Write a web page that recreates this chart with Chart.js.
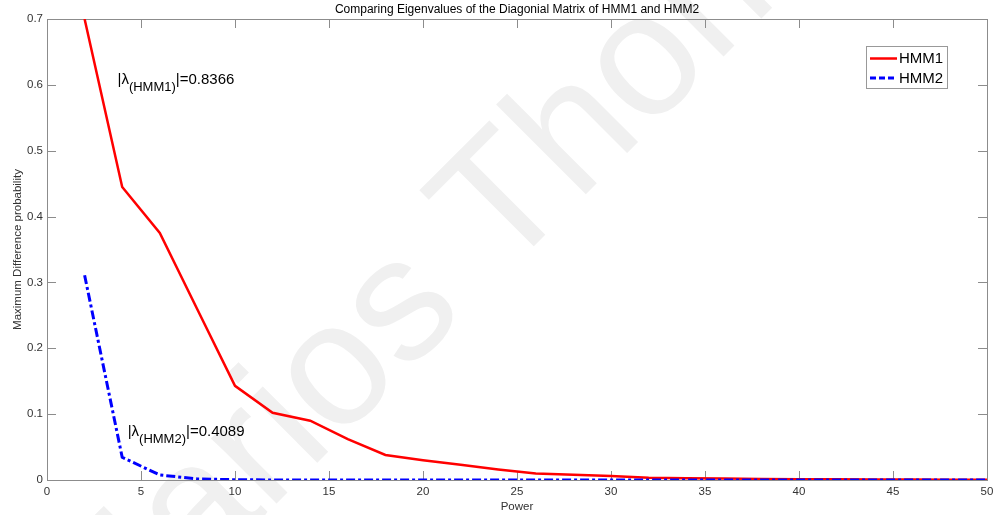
<!DOCTYPE html>
<html>
<head>
<meta charset="utf-8">
<script src="https://cdn.jsdelivr.net/npm/chart.js@4.4.0/dist/chart.umd.min.js"></script>
<style>
  html, body { margin: 0; padding: 0; background: #fff; }
  #contenedor { width: 1002px; height: 515px; }
</style>
</head>
<body>
<div id="contenedor"><canvas id="grafico"></canvas></div>
<script>
// potencias de la matriz (eje x) y diferencia máxima de probabilidad para cada modelo
const potencias = [2, 4, 6, 8, 10, 12, 14, 16, 18, 20, 22, 24, 26, 28, 30, 32, 34, 36, 38, 40, 42, 44, 46, 48, 50];
const difHMM1 = [0.700, 0.445, 0.375, 0.259, 0.143, 0.102, 0.090, 0.062, 0.038, 0.030, 0.023, 0.016, 0.010,
                 0.008, 0.006, 0.0035, 0.0028, 0.0022, 0.0017, 0.0013, 0.0010, 0.0008, 0.0006, 0.0005, 0.0004];
const difHMM2 = [0.311, 0.0345, 0.0076, 0.0017, 0.0004, 0.0001, 0.00002, 0, 0, 0, 0, 0, 0,
                 0, 0, 0, 0, 0, 0, 0, 0, 0, 0, 0, 0];
const ticksX = [0, 5, 10, 15, 20, 25, 30, 35, 40, 45, 50];
const ticksY = [0, 0.1, 0.2, 0.3, 0.4, 0.5, 0.6, 0.7];
const nombres = ['HMM1', 'HMM2'];
const autovalores = ['0.8366', '0.4089'];
// posición (x, y en unidades de datos) de cada etiqueta |λ|
const posEtiquetaX = [3.75, 4.29];
const posEtiquetaY = [0.602, 0.067];

const FUENTE = '"Liberation Sans", Arial, Helvetica, sans-serif';
const GRIS_EJE = '#8c8c8c';
const colores = ['#ff0000', '#0000ff'];
const anchos = [2.5, 3];
const guiones = [[], [9, 3, 3, 3]];

// marca de agua de fondo
const marcaAgua = {
    id: 'marcaAgua',
    beforeDraw(chart) {
        const ctx = chart.ctx;
        ctx.save();
        ctx.fillStyle = '#f0f0f0';
        ctx.font = '175px ' + FUENTE;
        ctx.translate(96, 684);
        ctx.rotate(-Math.PI / 4);
        ctx.fillText('Marios Thomas', 0, 0);
        ctx.restore();
    }
};

// caja de ejes con marcas hacia adentro, estilo MATLAB
const cajaEjes = {
    id: 'cajaEjes',
    beforeDatasetsDraw(chart) {
        const { ctx, chartArea: a, scales } = chart;
        const largo = 9;
        ctx.save();
        ctx.strokeStyle = GRIS_EJE;
        ctx.lineWidth = 1;
        ctx.beginPath();
        ticksX.forEach(v => {
            const px = Math.round(scales.x.getPixelForValue(v)) + 0.5;
            ctx.moveTo(px, a.bottom); ctx.lineTo(px, a.bottom - largo);
            ctx.moveTo(px, a.top); ctx.lineTo(px, a.top + largo);
        });
        ticksY.forEach(v => {
            const py = Math.round(scales.y.getPixelForValue(v)) + 0.5;
            ctx.moveTo(a.left, py); ctx.lineTo(a.left + largo, py);
            ctx.moveTo(a.right, py); ctx.lineTo(a.right - largo, py);
        });
        ctx.stroke();
        ctx.strokeRect(Math.round(a.left) + 0.5, Math.round(a.top) + 0.5,
                       Math.round(a.right - a.left), Math.round(a.bottom - a.top));
        ctx.restore();
    }
};

// etiquetas |λ(HMMn)|=valor y leyenda
const anotaciones = {
    id: 'anotaciones',
    afterDatasetsDraw(chart) {
        const { ctx, chartArea: a, scales } = chart;
        ctx.save();
        ctx.fillStyle = '#000';
        ctx.textBaseline = 'alphabetic';
        nombres.forEach((n, i) => {
            let x = scales.x.getPixelForValue(posEtiquetaX[i]);
            const y = scales.y.getPixelForValue(posEtiquetaY[i]);
            ctx.font = '15px ' + FUENTE;
            ctx.fillText('|λ', x, y);
            x += ctx.measureText('|λ').width;
            ctx.font = '13px ' + FUENTE;
            ctx.fillText('(' + n + ')', x, y + 7.5);
            x += ctx.measureText('(' + n + ')').width;
            ctx.font = '15px ' + FUENTE;
            ctx.fillText('|=' + autovalores[i], x, y);
        });

        // leyenda dentro del área de trazado
        const lx = a.right - 121, ly = a.top + 27, lw = 81, lh = 42;
        ctx.fillStyle = '#fff';
        ctx.fillRect(lx, ly, lw, lh);
        ctx.strokeStyle = '#999';
        ctx.lineWidth = 1;
        ctx.strokeRect(Math.round(lx) + 0.5, Math.round(ly) + 0.5, lw, lh);
        ctx.font = '15px ' + FUENTE;
        ctx.textBaseline = 'middle';
        nombres.forEach((n, i) => {
            const fy = ly + 12.5 + i * 19.5;
            ctx.strokeStyle = colores[i];
            ctx.lineWidth = anchos[i];
            ctx.setLineDash(i === 0 ? [] : [6, 3]);
            ctx.beginPath();
            ctx.moveTo(lx + 4, fy);
            ctx.lineTo(lx + 31, fy);
            ctx.stroke();
            ctx.setLineDash([]);
            ctx.fillStyle = '#000';
            ctx.fillText(n, lx + 33, fy + 0.5);
        });
        ctx.restore();
    }
};

const series = [difHMM1, difHMM2];
const datasets = nombres.map((n, i) => ({
    label: n,
    data: potencias.map((p, k) => ({ x: p, y: series[i][k] })),
    borderColor: colores[i],
    borderWidth: anchos[i],
    borderDash: guiones[i],
    pointRadius: 0,
    fill: false,
    tension: 0,
    order: i === 0 ? 1 : 0
}));

new Chart(document.getElementById('grafico'), {
    type: 'line',
    data: { datasets },
    options: {
        responsive: true,
        maintainAspectRatio: false,
        animation: false,
        layout: { padding: { left: 0, right: 15, top: 0, bottom: 0 } },
        plugins: {
            legend: { display: false },
            tooltip: { enabled: false },
            title: {
                display: true,
                text: 'Comparing Eigenvalues of the Diagonial Matrix of HMM1 and HMM2',
                fullSize: false,
                color: '#000',
                font: { family: FUENTE, size: 12, weight: 'normal', lineHeight: 1.2 },
                padding: { top: 2, bottom: 2.6 }
            }
        },
        scales: {
            x: {
                type: 'linear',
                min: 0,
                max: 50,
                afterBuildTicks: s => { s.ticks = ticksX.map(v => ({ value: v })); },
                afterFit: s => { s.height = 35; },
                grid: { display: false, tickLength: 0 },
                border: { display: false },
                ticks: { color: '#333', padding: 5, maxRotation: 0, font: { family: FUENTE, size: 11.5 } },
                title: {
                    display: true,
                    text: 'Power',
                    color: '#333',
                    font: { family: FUENTE, size: 11.5 },
                    padding: { top: 0, bottom: 1 }
                }
            },
            y: {
                min: 0,
                max: 0.7,
                afterBuildTicks: s => { s.ticks = ticksY.map(v => ({ value: v })); },
                afterFit: s => { s.width = 47; },
                grid: { display: false, tickLength: 0 },
                border: { display: false },
                ticks: {
                    color: '#333',
                    padding: 4,
                    font: { family: FUENTE, size: 11.5 },
                    callback: v => (v === 0 ? '0' : v.toFixed(1))
                },
                title: {
                    display: true,
                    text: 'Maximum Difference probability',
                    color: '#333',
                    font: { family: FUENTE, size: 11.5 },
                    padding: { top: 11, bottom: 0 }
                }
            }
        }
    },
    plugins: [marcaAgua, cajaEjes, anotaciones]
});
</script>
</body>
</html>
